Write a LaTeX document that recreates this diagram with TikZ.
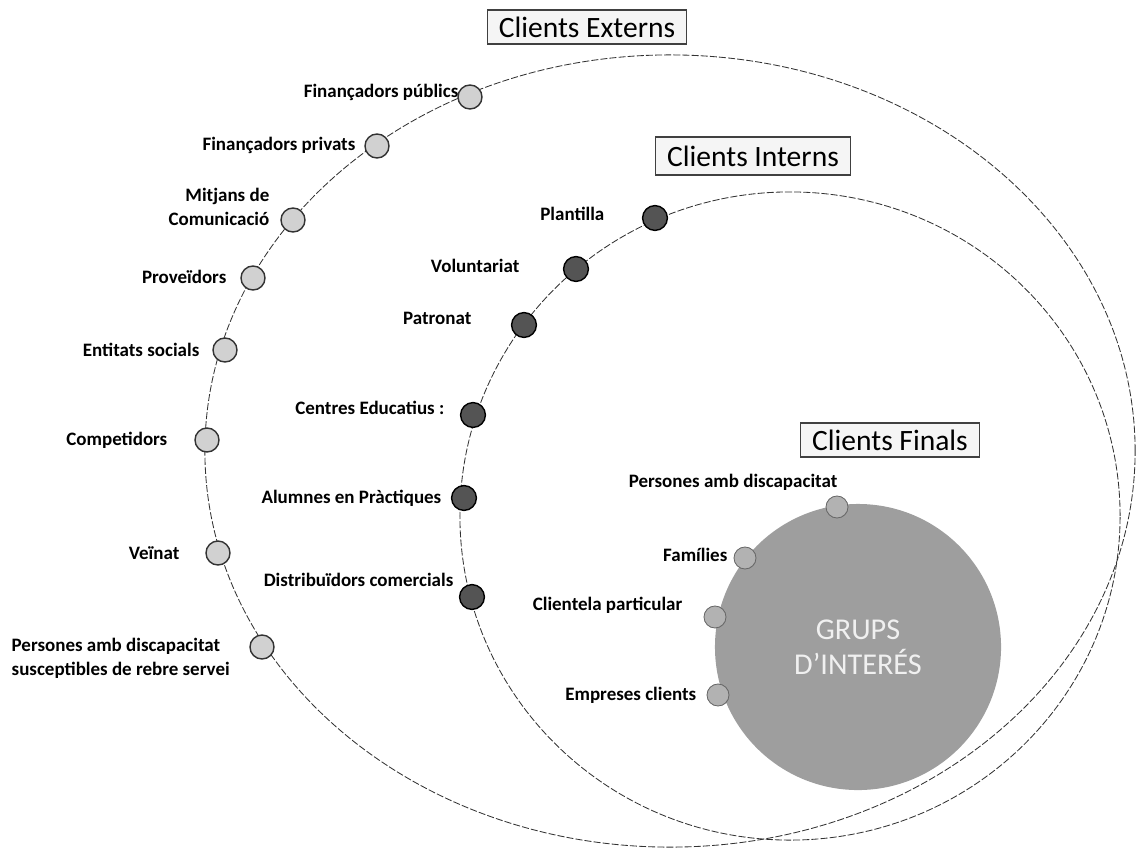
\documentclass[tikz,border=0pt]{standalone}
\usepackage{fontspec}
\setmainfont{Carlito}
\usepackage{xcolor,tikz}
\usetikzlibrary{positioning}
\tikzset{>=stealth}
\definecolor{dotlight}{gray}{0.82}
\definecolor{dotdark}{gray}{0.33}
\definecolor{dotfinal}{gray}{0.70}
\definecolor{grupsfill}{gray}{0.62}
\tikzset{
  orbit/.style={draw=black!80,line width=0.6pt,dash pattern=on 5pt off 1.5pt},
  extdot/.style={circle,draw=black!80,line width=1pt,fill=dotlight,minimum size=0.6cm,inner sep=0pt},
  intdot/.style={circle,draw=black,line width=1pt,fill=dotdark,minimum size=0.62cm,inner sep=0pt},
  findot/.style={circle,draw=gray!80!black,line width=0.6pt,fill=dotfinal,minimum size=0.55cm,inner sep=0pt},
  lbl/.style={font=\fontsize{13.5}{17}\selectfont\bfseries,inner sep=1pt},
  groupbox/.style={draw=black!75,fill=gray!8,line width=0.8pt,font=\fontsize{21}{24}\selectfont,inner xsep=8pt,minimum height=0.85cm}
}

\begin{document}
\begin{tikzpicture}[x=0.025cm,y=-0.025cm]
\useasboundingbox (0,0) rectangle (1137,851);

\draw[orbit] (670,451) ellipse [x radius=11.625cm,y radius=9.9cm];
\draw[orbit] (790,516) ellipse [x radius=8.25cm,y radius=8.1cm];

\node[circle,fill=grupsfill,minimum size=7.15cm,inner sep=0pt,align=center,text=gray!12,
  font=\fontsize{21.5}{25}\selectfont] (grups) at (858,647) {GRUPS\\D'INTERÉS};

\foreach \n/\px/\py in {fpub/470/97,fpri/377/146,mitj/293/220,prov/253/278,enti/225/350,comp/207/440,vein/218/553,pers/262/647} {
\node[extdot] (\n) at (\px,\py) {};
};
\foreach \n/\px/\py in {plan/655/218,volu/576/269,patr/524/325,cent/473/415,alum/464/498,dist/472/597} {
\node[intdot] (\n) at (\px,\py) {};
};
\foreach \n/\px/\py in {pdis/837/507,fami/745/558,clie/715/617,empr/718/695} {
\node[findot] (\n) at (\px,\py) {};
};

\node[lbl,anchor=east] (fpubtxt) at (460,92) {Finançadors públics};
\node[lbl,anchor=east] (fpritxt) at (357,145) {Finançadors privats};
\node[lbl,anchor=east,align=right] (mitjtxt) at (271,207) {Mitjans de\\Comunicació};
\node[lbl,anchor=east] (provtxt) at (228,277) {Proveïdors};
\node[lbl,anchor=east] (entitxt) at (201,350) {Entitats socials};
\node[lbl,anchor=east] (comptxt) at (169,440) {Competidors};
\node[lbl,anchor=east] (veintxt) at (181,553) {Veïnat};
\node[lbl,anchor=west,align=left] (perstxt) at (10,658) {Persones amb discapacitat\\susceptibles de rebre servei};

\node[lbl,anchor=east] (plantxt) at (606,214) {Plantilla};
\node[lbl,anchor=east] (volutxt) at (521,266) {Voluntariat};
\node[lbl,anchor=east] (patrtxt) at (473,318) {Patronat};
\node[lbl,anchor=east] (centtxt) at (446,408) {Centres Educatius :};
\node[lbl,anchor=east] (alumtxt) at (443,498) {Alumnes en Pràctiques};
\node[lbl,anchor=east] (disttxt) at (455,580) {Distribuïdors comercials};

\node[lbl,anchor=east] (pdistxt) at (839,482) {Persones amb discapacitat};
\node[lbl,anchor=east] (famitxt) at (729,555) {Famílies};
\node[lbl,anchor=east] (clietxt) at (684,605) {Clientela particular};
\node[lbl,anchor=east] (emprtxt) at (698,695) {Empreses clients};

\node[groupbox] (externs) at (587,27) {Clients Externs};
\node[groupbox,minimum height=0.95cm] (interns) at (753,156) {Clients Interns};
\node[groupbox] (finals) at (890,440) {Clients Finals};
\end{tikzpicture}
\end{document}
